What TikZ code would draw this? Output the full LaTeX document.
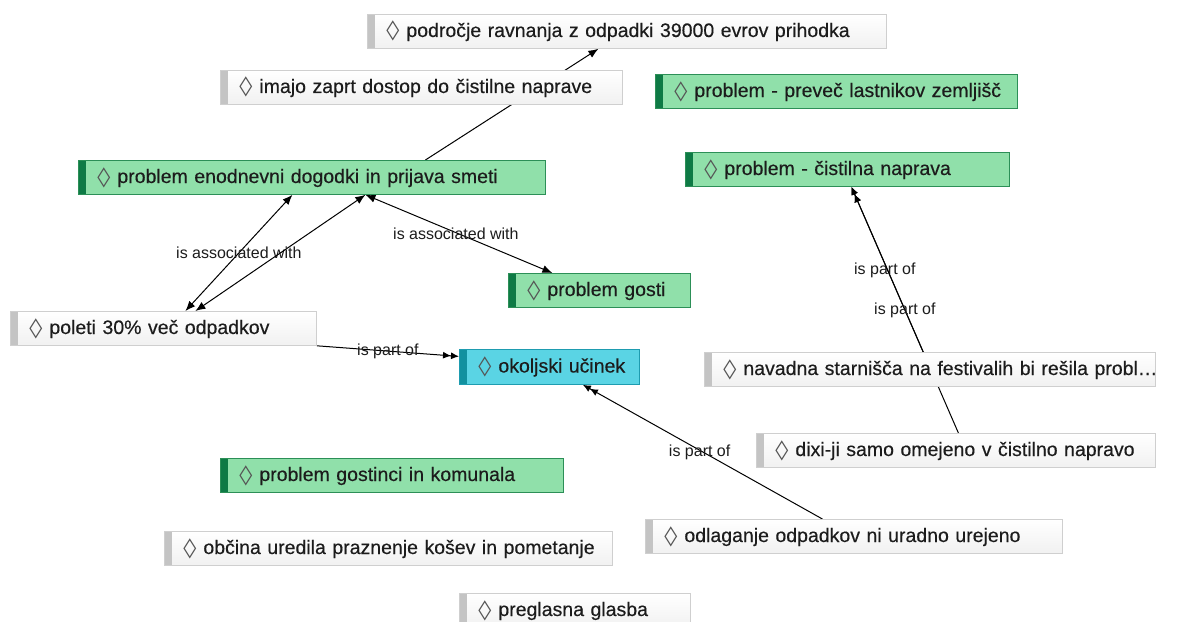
\documentclass[tikz,border=0pt]{standalone}
\usepackage{fontspec}
\setmainfont{Liberation Sans}
\newfontfamily\cardfont{Liberation Sans}[FakeBold=0.35]
\newfontfamily\symfont{DejaVu Sans}
\usetikzlibrary{arrows.meta,backgrounds,calc}
\definecolor{ideaedge}{HTML}{CFCFCF}
\definecolor{ideabar}{HTML}{C4C4C4}
\definecolor{ideafill}{HTML}{F1F1F1}
\definecolor{probfill}{HTML}{90E0AA}
\definecolor{probedge}{HTML}{2C8F57}
\definecolor{probbar}{HTML}{0E7A45}
\definecolor{efffill}{HTML}{5AD4E4}
\definecolor{effedge}{HTML}{1E9CB0}
\definecolor{effbar}{HTML}{12919F}
\definecolor{txt}{HTML}{1C1C1C}
\newcommand{\dm}[1]{\mbox{\hspace*{19pt}{\symfont\color{txt!75}\scalebox{1.35}[1]{◊}}\hspace{7pt}#1}}

\tikzset{
  card/.style={rectangle, anchor=north west, inner xsep=0pt, inner ysep=0pt,
    minimum height=34pt, align=left, text=txt, line width=0.8pt,
    font=\cardfont\fontsize{19.5}{22}\selectfont, text width=#1pt},
  bar/.style={path picture={\fill[#1] (path picture bounding box.south west)
    rectangle ([xshift=8pt]path picture bounding box.north west);}},
  idea/.style={card=#1, draw=ideaedge, top color=white, bottom color=ideafill, bar=ideabar},
  problem/.style={card=#1, draw=probedge, fill=probfill, bar=probbar},
  effect/.style={card=#1, draw=effedge, fill=efffill, bar=effbar},
  tip/.tip={Latex[length=10pt,width=8pt]},
  assoc/.style={line width=1pt, tip-tip},
  rel/.style={line width=1pt, -tip},
  part/.style={line width=1pt, -{tip[length=8pt,width=7pt]tip[length=8pt,width=7pt]}},
  lbl/.style={font=\fontsize{16}{18}\selectfont, text=txt, inner sep=1pt}
}

\begin{document}
\begin{tikzpicture}[x=1pt,y=-1pt]
  \useasboundingbox (0,0) rectangle (1183,621);
  \clip (0,0) rectangle (1183,621);

  \node[idea=519]    (pod)     at (367,14)  {\dm{področje ravnanja z odpadki 39000 evrov prihodka}};
  \node[idea=402]    (imajo)   at (220,70)  {\dm{imajo zaprt dostop do čistilne naprave}};
  \node[problem=362] (lastnik) at (655,74)  {\dm{problem - preveč lastnikov zemljišč}};
  \node[problem=467] (enod)    at (78,160)  {\dm{problem enodnevni dogodki in prijava smeti}};
  \node[problem=324] (cist)    at (685,152) {\dm{problem - čistilna naprava}};
  \node[problem=182] (gosti)   at (508,273) {\dm{problem gosti}};
  \node[idea=306]    (poleti)  at (10,311)  {\dm{poleti 30\% več odpadkov}};
  \node[effect=180, minimum height=35pt] (okolj) at (459,349) {\dm{okoljski učinek}};
  \node[idea=451]    (navadna) at (704,352) {\dm{navadna starnišča na festivalih bi rešila probl…}};
  \node[idea=399]    (dixi)    at (756,433) {\dm{dixi-ji samo omejeno v čistilno napravo}};
  \node[problem=343] (gostin)  at (220,458) {\dm{problem gostinci in komunala}};
  \node[idea=417]    (odlag)   at (645,519) {\dm{odlaganje odpadkov ni uradno urejeno}};
  \node[idea=448]    (obcina)  at (164,531) {\dm{občina uredila praznenje košev in pometanje}};
  \node[idea=231]    (glasba)  at (459,593) {\dm{preglasna glasba}};

  \begin{scope}[on background layer]
    \fill[white] (0,0) rectangle (1183,621);
    \draw[rel] ([xshift=113.5pt]enod.north) -- ([xshift=-28.5pt]pod.south);
    \draw[assoc] ([xshift=22pt]poleti.north) -- ([xshift=-19.5pt]enod.south)
      node[lbl, midway]{is associated with};
    \draw[assoc] ([xshift=32pt]poleti.north) -- ([xshift=53.5pt]enod.south);
    \draw[assoc] ([xshift=53.5pt]enod.south) -- ([xshift=-47pt]gosti.north)
      node[lbl, midway, xshift=-3pt]{is associated with};
    \draw[part] (poleti.south east) -- ([yshift=10.5pt]okolj.west)
      node[lbl, midway]{is part of};
    \draw[part] ([xshift=-31.5pt]odlag.north) -- ([xshift=33.5pt]okolj.south)
      node[lbl, midway, xshift=-3pt]{is part of};
    \coordinate (c) at ([xshift=4pt]cist.south);
    \coordinate (d) at ([xshift=2.5pt]dixi.north);
    \draw[part] ($(d)!(navadna.north)!(c)$) -- (c)
      node[lbl, midway, xshift=-3pt]{is part of};
    \draw[part] (d) -- (c) node[lbl, midway]{is part of};
  \end{scope}
\end{tikzpicture}
\end{document}
